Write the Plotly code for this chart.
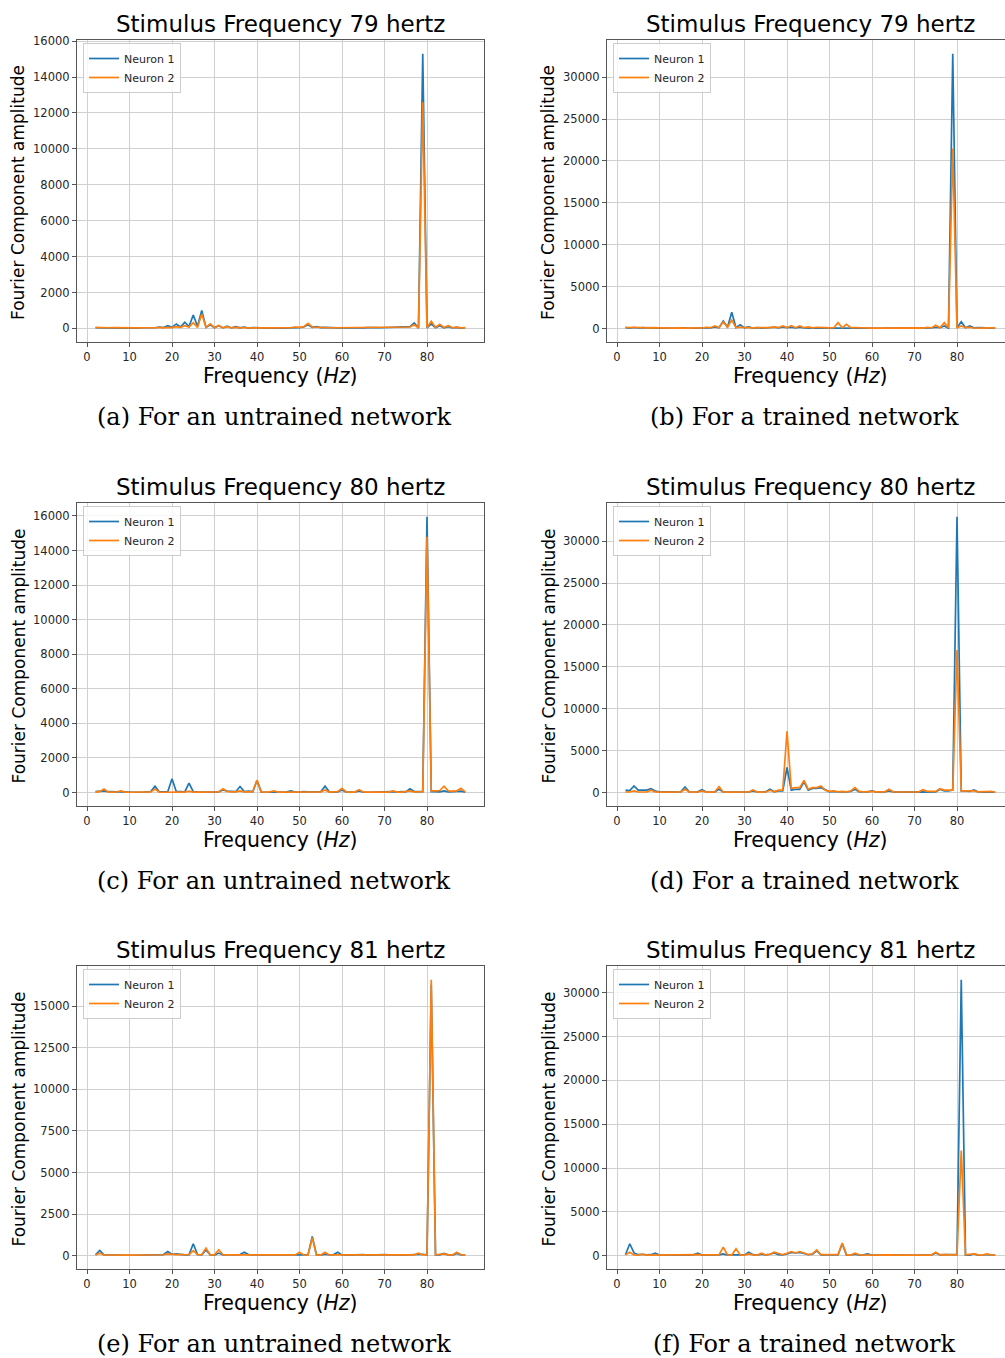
import plotly.graph_objects as go

freq = list(range(2, 90))

# (a) 79 Hz untrained
a_n1 = [40, 30, 20, 30, 20, 30, 20, 30,
        20, 30, 20, 40, 30, 60, 40, 80, 50, 150,
        60, 250, 80, 350, 100, 750, 120, 1000, 60, 200,
        40, 150, 30, 130, 30, 100, 30, 80, 20, 50,
        20, 30, 20, 30, 10, 20, 10, 30, 20, 50,
        40, 80, 200, 60, 100, 50, 60, 40, 50, 30,
        40, 30, 50, 30, 40, 30, 50, 30, 50, 40,
        50, 40, 60, 40, 80, 60, 100, 300, 20, 15300,
        30, 250, 40, 150, 40, 100, 30, 60, 20, 40]
a_n2 = [60, 40, 50, 40, 50, 40, 40, 30,
        30, 30, 30, 40, 30, 40, 40, 50, 40, 60,
        50, 100, 60, 150, 80, 320, 50, 800, 60, 250,
        40, 170, 40, 100, 40, 60, 30, 40, 30, 40,
        30, 30, 30, 30, 30, 40, 30, 50, 40, 80,
        60, 100, 280, 80, 60, 50, 50, 40, 40, 40,
        40, 40, 40, 40, 40, 40, 40, 40, 40, 40,
        40, 40, 40, 40, 50, 60, 80, 200, 30, 12600,
        50, 400, 60, 230, 50, 150, 40, 70, 30, 50]

# (b) 79 Hz trained
b_n1 = [100, 50, 120, 60, 100, 50, 80, 40,
        60, 40, 50, 30, 60, 30, 80, 30, 60, 100,
        40, 80, 60, 200, 100, 900, 150, 1950, 100, 450,
        80, 200, 60, 100, 40, 80, 60, 150, 80, 200,
        100, 150, 80, 150, 60, 100, 50, 80, 40, 60,
        40, 60, 50, 80, 60, 80, 40, 50, 30, 40,
        30, 40, 30, 40, 30, 40, 30, 40, 30, 50,
        40, 60, 50, 80, 60, 150, 100, 300, 50, 32800,
        100, 800, 100, 300, 80, 120, 60, 80, 50, 60]
b_n2 = [150, 100, 150, 100, 120, 80, 100, 80,
        80, 60, 80, 50, 80, 50, 100, 50, 80, 60,
        60, 150, 100, 300, 100, 800, 150, 1000, 100, 150,
        100, 100, 80, 100, 80, 150, 100, 200, 100, 300,
        100, 350, 100, 300, 100, 200, 80, 150, 80, 100,
        80, 100, 700, 100, 500, 100, 120, 80, 60, 50,
        50, 40, 50, 40, 50, 40, 50, 40, 60, 50,
        60, 80, 50, 150, 80, 400, 100, 700, 80, 21500,
        100, 300, 100, 150, 60, 100, 50, 80, 50, 80]

# (c) 80 Hz untrained
c_n1 = [50, 80, 100, 50, 40, 30, 60, 30,
        20, 20, 20, 20, 30, 60, 370, 50, 40, 50,
        800, 60, 50, 40, 540, 50, 40, 30, 30, 40,
        30, 40, 150, 80, 50, 50, 350, 60, 80, 50,
        700, 30, 20, 30, 60, 30, 30, 40, 100, 30,
        30, 60, 40, 30, 40, 50, 370, 40, 30, 40,
        150, 30, 30, 20, 100, 30, 20, 30, 20, 30,
        40, 30, 50, 30, 60, 40, 220, 60, 40, 50,
        15950, 50, 60, 40, 100, 40, 50, 60, 80, 30]
c_n2 = [30, 50, 200, 40, 30, 40, 100, 30,
        20, 20, 20, 20, 30, 40, 200, 30, 20, 30,
        60, 30, 30, 30, 80, 30, 30, 30, 30, 40,
        40, 40, 220, 60, 40, 40, 100, 40, 40, 50,
        730, 40, 30, 40, 100, 30, 30, 30, 60, 30,
        30, 40, 30, 30, 30, 40, 150, 30, 40, 50,
        250, 40, 30, 30, 170, 40, 30, 30, 30, 40,
        30, 30, 100, 30, 30, 50, 100, 40, 40, 50,
        14800, 100, 100, 120, 370, 100, 80, 100, 250, 40]

# (d) 80 Hz trained
d_n1 = [300, 250, 800, 300, 300, 300, 480, 200,
        100, 120, 80, 100, 80, 100, 680, 100, 80, 100,
        360, 80, 60, 100, 400, 80, 60, 80, 60, 80,
        60, 80, 200, 80, 80, 100, 400, 100, 200, 200,
        3000, 300, 400, 400, 1300, 300, 500, 500, 600, 300,
        100, 150, 80, 100, 80, 150, 400, 100, 80, 100,
        200, 80, 60, 80, 200, 80, 60, 80, 60, 80,
        60, 80, 100, 50, 60, 80, 400, 200, 200, 300,
        32900, 200, 200, 150, 320, 80, 60, 80, 100, 50]
d_n2 = [100, 80, 200, 80, 80, 80, 300, 80,
        60, 80, 60, 80, 60, 80, 400, 80, 60, 80,
        200, 60, 60, 80, 720, 80, 60, 80, 60, 80,
        60, 80, 320, 80, 60, 80, 280, 100, 300, 300,
        7300, 500, 600, 600, 1470, 400, 600, 600, 800, 300,
        150, 200, 100, 150, 100, 200, 600, 150, 100, 150,
        150, 100, 100, 100, 400, 100, 80, 100, 80, 100,
        100, 100, 360, 150, 150, 150, 480, 300, 300, 300,
        17000, 200, 200, 200, 200, 100, 100, 100, 150, 50]

# (e) 81 Hz untrained
e_n1 = [40, 305, 40, 30, 40, 30, 20, 30,
        20, 20, 20, 30, 40, 60, 50, 40, 60, 240,
        80, 100, 60, 40, 40, 710, 60, 40, 340, 40,
        30, 150, 40, 40, 60, 80, 60, 200, 60, 40,
        40, 30, 30, 20, 20, 30, 30, 60, 40, 30,
        40, 30, 40, 1150, 40, 30, 80, 40, 60, 200,
        40, 30, 40, 30, 30, 60, 30, 40, 50, 80,
        60, 40, 60, 40, 30, 40, 60, 40, 40, 80,
        40, 16300, 40, 40, 130, 40, 30, 130, 40, 30]
e_n2 = [30, 140, 40, 30, 30, 30, 30, 30,
        30, 30, 30, 40, 40, 50, 60, 40, 50, 100,
        60, 60, 60, 50, 50, 300, 50, 50, 450, 40,
        40, 350, 50, 40, 50, 40, 50, 60, 50, 40,
        40, 40, 40, 30, 30, 40, 40, 40, 50, 40,
        200, 40, 30, 1080, 40, 30, 200, 40, 40, 60,
        40, 40, 40, 40, 40, 80, 40, 40, 40, 40,
        40, 40, 40, 40, 40, 40, 60, 40, 140, 40,
        40, 16600, 40, 50, 100, 40, 40, 200, 50, 30]

# (f) 81 Hz trained
f_n1 = [100, 1350, 300, 100, 150, 80, 100, 270,
        60, 50, 60, 50, 80, 50, 60, 50, 80, 270,
        60, 50, 40, 60, 80, 200, 60, 80, 50, 80,
        80, 390, 100, 60, 150, 80, 150, 300, 100, 80,
        200, 350, 300, 350, 250, 100, 150, 550, 80, 60,
        40, 60, 80, 1350, 60, 40, 150, 60, 80, 200,
        40, 60, 40, 60, 40, 80, 60, 60, 40, 60,
        40, 60, 60, 80, 60, 300, 80, 100, 80, 100,
        100, 31500, 60, 60, 200, 60, 40, 120, 60, 40]
f_n2 = [80, 390, 80, 60, 150, 60, 60, 80,
        60, 60, 60, 80, 80, 100, 80, 60, 80, 100,
        80, 60, 60, 60, 80, 970, 80, 60, 770, 80,
        60, 200, 80, 60, 270, 60, 150, 390, 200, 100,
        250, 460, 300, 460, 300, 100, 200, 650, 100, 80,
        60, 80, 100, 1430, 80, 60, 270, 80, 60, 120,
        60, 80, 60, 80, 60, 100, 60, 80, 60, 60,
        60, 80, 60, 80, 60, 390, 80, 100, 60, 80,
        80, 12000, 80, 100, 200, 80, 60, 200, 80, 60]

titles = ["Stimulus Frequency 79 hertz", "Stimulus Frequency 79 hertz",
          "Stimulus Frequency 80 hertz", "Stimulus Frequency 80 hertz",
          "Stimulus Frequency 81 hertz", "Stimulus Frequency 81 hertz"]
captions = ["(a) For an untrained network", "(b) For a trained network",
            "(c) For an untrained network", "(d) For a trained network",
            "(e) For an untrained network", "(f) For a trained network"]
series = [(a_n1, a_n2), (b_n1, b_n2), (c_n1, c_n2),
          (d_n1, d_n2), (e_n1, e_n2), (f_n1, f_n2)]
ytick_sets = [list(range(0, 16001, 2000)), list(range(0, 30001, 5000)),
              list(range(0, 16001, 2000)), list(range(0, 30001, 5000)),
              list(range(0, 15001, 2500)), list(range(0, 30001, 5000))]
xticks = list(range(0, 81, 10))
names = ["Neuron 1", "Neuron 2"]
colors = ["#1f77b4", "#ff7f0e"]

W, H = 1005, 1358
col_px = [(77, 484), (607, 1005)]
row_px = [(40, 342), (503, 806), (966, 1269)]
x0_px = [87, 617]  # pixel of x=0
px_per_unit = 4.25

fig = go.Figure()
layout = dict(width=W, height=H, margin=dict(l=0, r=0, t=0, b=0, autoexpand=False),
              paper_bgcolor="white", plot_bgcolor="white", showlegend=True,
              annotations=[])

tickfont = dict(family="DejaVu Sans", size=11.5, color="#262626")
for k in range(6):
    r, c = divmod(k, 2)
    xa = "x" if k == 0 else f"x{k+1}"
    ya = "y" if k == 0 else f"y{k+1}"
    lg = "legend" if k == 0 else f"legend{k+1}"
    for j in range(2):
        fig.add_trace(go.Scatter(x=freq, y=series[k][j], mode="lines", name=names[j],
                                 line=dict(color=colors[j], width=1.7),
                                 xaxis=xa, yaxis=ya, legend=lg))
    l, rgt = col_px[c]
    t, b = row_px[r]
    xmin = -(x0_px[c] - l) / px_per_unit
    xmax = (rgt - x0_px[c]) / px_per_unit
    allv = series[k][0] + series[k][1]
    lo, hi = min(allv), max(allv)
    pad = 0.05 * (hi - lo)
    xkey = "xaxis" if k == 0 else f"xaxis{k+1}"
    ykey = "yaxis" if k == 0 else f"yaxis{k+1}"
    layout[xkey] = dict(domain=[l / W, rgt / W], anchor=ya, range=[xmin, xmax],
                        tickvals=xticks, ticktext=[str(v) for v in xticks],
                        ticks="outside", ticklen=4, tickcolor="#555",
                        showgrid=True, gridcolor="#d0d0d0", gridwidth=1,
                        showline=True, linecolor="#555", linewidth=1.2,
                        mirror=True, zeroline=False, tickfont=tickfont,
                        automargin=False)
    layout[ykey] = dict(domain=[1 - b / H, 1 - t / H], anchor=xa,
                        range=[lo - pad, hi + pad], tickvals=ytick_sets[k],
                        ticktext=[str(v) for v in ytick_sets[k]],
                        ticks="outside", ticklen=4, tickcolor="#555",
                        showgrid=True, gridcolor="#d0d0d0", gridwidth=1,
                        showline=True, linecolor="#555", linewidth=1.2,
                        mirror=(c == 0), zeroline=False, tickfont=tickfont,
                        automargin=False)
    layout[lg] = dict(x=(l + 6) / W, y=1 - (t + 3) / H, xanchor="left", yanchor="top",
                      bgcolor="rgba(255,255,255,0.8)", bordercolor="#cccccc", borderwidth=1,
                      font=dict(family="DejaVu Sans", size=11, color="#262626"),
                      itemwidth=30, tracegroupgap=0)
    cx = (l + (rgt if c == 0 else 1014)) / 2
    # title
    layout["annotations"].append(dict(text=titles[k], x=cx / W, y=1 - (t - 16) / H,
                                      xref="paper", yref="paper", showarrow=False,
                                      xanchor="center", yanchor="middle",
                                      font=dict(family="DejaVu Sans", size=23, color="black")))
    # x label
    layout["annotations"].append(dict(text="Frequency (<i>Hz</i>)", x=cx / W,
                                      y=1 - (b + 34) / H, xref="paper", yref="paper",
                                      showarrow=False, xanchor="center", yanchor="middle",
                                      font=dict(family="DejaVu Sans", size=20.5, color="black")))
    # y label
    layout["annotations"].append(dict(text="Fourier Component amplitude",
                                      x=(18 if c == 0 else 548) / W,
                                      y=1 - ((t + b) / 2 + 2) / H, xref="paper", yref="paper",
                                      showarrow=False, xanchor="center", yanchor="middle",
                                      textangle=-90,
                                      font=dict(family="DejaVu Sans", size=17, color="black")))
    # caption
    layout["annotations"].append(dict(text=captions[k], x=(274 if c == 0 else 804) / W,
                                      y=1 - (b + 75) / H, xref="paper", yref="paper",
                                      showarrow=False, xanchor="center", yanchor="middle",
                                      font=dict(family="DejaVu Serif", size=24, color="black")))

fig.update_layout(**layout)
fig.write_html("out.html")
